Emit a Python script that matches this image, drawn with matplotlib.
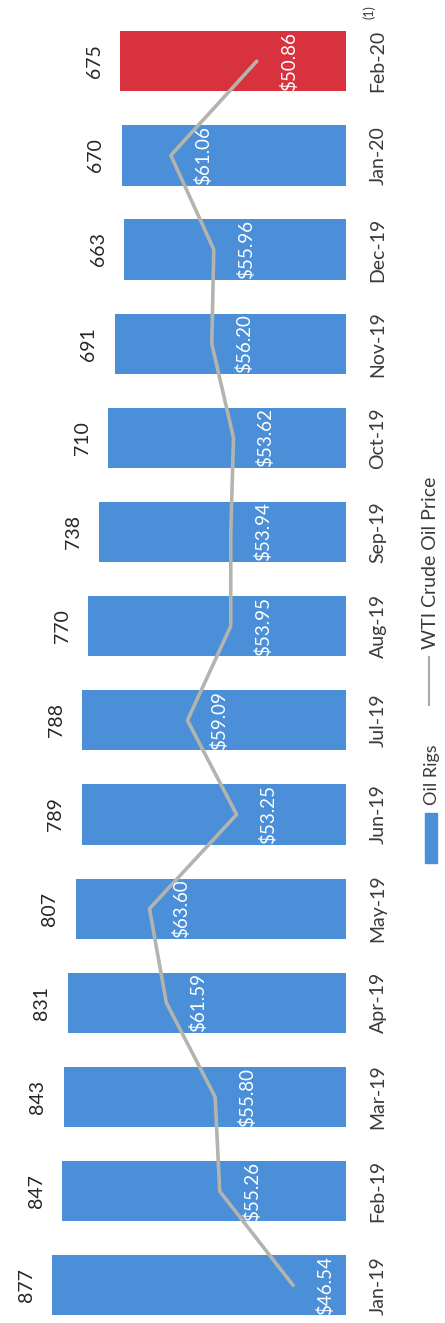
import matplotlib
matplotlib.use("Agg")
import matplotlib.pyplot as plt
from matplotlib.patches import Rectangle
from matplotlib.lines import Line2D

months = ["Jan-19", "Feb-19", "Mar-19", "Apr-19", "May-19", "Jun-19", "Jul-19",
          "Aug-19", "Sep-19", "Oct-19", "Nov-19", "Dec-19", "Jan-20", "Feb-20"]
oil_rigs = [877, 847, 843, 831, 807, 789, 788, 770, 738, 710, 691, 663, 670, 675]
wti_price = [46.54, 55.26, 55.80, 61.59, 63.60, 53.25, 59.09, 53.95, 53.94,
             53.62, 56.20, 55.96, 61.06, 50.86]
footnote = "(1)"
legend_labels = ["Oil Rigs", "WTI Crude Oil Price"]

BLUE = "#4A8FD8"
RED = "#D8323F"
LINE = "#B4B4AE"
TXT = "#262626"
FONT = "Lato"
plt.rcParams["font.family"] = [FONT, "DejaVu Sans"]

W, H = 445, 1323
fig = plt.figure(figsize=(W / 100, H / 100), dpi=100)
fig.patch.set_facecolor("white")

base_px = 346
ax = fig.add_axes([0, 0, base_px / W, 1])
idx = list(range(len(months)))
colors = [BLUE] * (len(months) - 1) + [RED]
ax.barh(idx, oil_rigs, height=0.64, color=colors, zorder=1)
ax.set_xlim(base_px / 0.335, 0)
ax.set_ylim(-0.40, 13.65)
for s in ax.spines.values():
    s.set_visible(False)
ax.set_xticks([])
ax.yaxis.tick_right()
ax.set_yticks(idx)
ax.set_yticklabels(months, rotation=90, va="center", ha="left",
                   fontsize=14, color="#3A3A3A")
ax.tick_params(axis="y", length=0, pad=17)

for i, v in zip(idx, oil_rigs):
    ax.annotate(str(v), (v, i), xytext=(-18.5, 0), textcoords="offset points",
                rotation=90, ha="center", va="center", fontsize=14, color=TXT)

ax2 = ax.twiny()
ax2.set_xlim(81.35, 40.26)
ax2.plot(wti_price, idx, color=LINE, lw=2.6, zorder=3, solid_capstyle="round")
for s in ax2.spines.values():
    s.set_visible(False)
ax2.set_xticks([])
for i, p in zip(idx, wti_price):
    ax2.annotate(f"${p:.2f}", (p, i), xytext=(23, 0), textcoords="offset points",
                 rotation=90, ha="center", va="center", fontsize=13.5,
                 color="white", zorder=4)

# footnote marker
fig.text(369 / W, 1 - 12 / H, footnote, rotation=90, ha="center", va="center",
         fontsize=9, color="#3A3A3A")

# legend (drawn rotated)
fig.patches.append(Rectangle((425 / W, 1 - 863 / H), 12 / W, 50 / H,
                             transform=fig.transFigure, color=BLUE))
fig.text(432 / W, 1 - 775 / H, legend_labels[0], rotation=90, ha="center",
         va="center", fontsize=13, color="#3A3A3A")
fig.lines.append(Line2D([429 / W, 429 / W], [1 - 705 / H, 1 - 657 / H],
                        transform=fig.transFigure, color="#A8A8A8", lw=1.5))
fig.text(431 / W, 1 - 563 / H, legend_labels[1], rotation=90, ha="center",
         va="center", fontsize=14, color="#3A3A3A")

fig.savefig("out.png", dpi=100, facecolor="white")
